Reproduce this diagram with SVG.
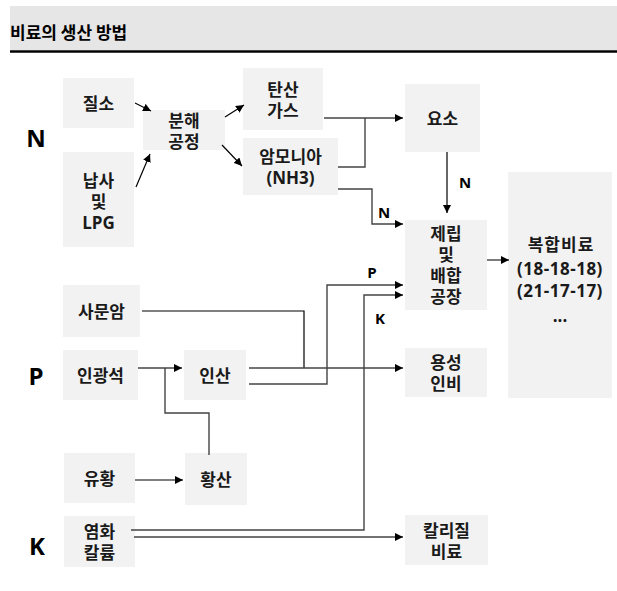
<svg xmlns="http://www.w3.org/2000/svg" width="617" height="591" viewBox="0 0 617 591">
<defs>
<marker id="ah" viewBox="0 0 10 10" refX="10" refY="5" markerWidth="8" markerHeight="8" markerUnits="userSpaceOnUse" orient="auto">
<path d="M0,0 L10,5 L0,10 Z" fill="#000"/>
</marker>
</defs>
<style>
.box{fill:#f2f2f2;}
.t{font-family:"Open Sans","Noto Sans CJK KR",sans-serif;font-weight:bold;font-size:17px;fill:#1a1a1a;text-anchor:middle;dominant-baseline:central;}
.big{font-family:"Open Sans","Noto Sans CJK KR",sans-serif;font-weight:bold;font-size:24px;fill:#000;text-anchor:middle;dominant-baseline:central;}
.lbl{font-family:"Open Sans","Noto Sans CJK KR",sans-serif;font-weight:bold;font-size:15px;fill:#000;text-anchor:middle;dominant-baseline:central;}
.c{fill:none;stroke:#444;stroke-width:1.4;}
.k{fill:none;stroke:#000;stroke-width:1.2;}
</style>
<rect x="10" y="6" width="607" height="44" fill="#e6e6e6"/>
<line x1="10" y1="51.5" x2="617" y2="51.5" stroke="#000" stroke-width="2.5"/>
<text x="10" y="31" font-family="'Noto Sans CJK KR',sans-serif" font-weight="bold" font-size="17" fill="#000" dominant-baseline="central">비료의 생산 방법</text>

<text class="big" x="36" y="137">N</text>
<text class="big" x="36" y="375">P</text>
<text class="big" x="37" y="545">K</text>

<g id="n-jilso"><rect class="box" x="63" y="78" width="71" height="50"/><text class="t" x="98.5" y="103">질소</text></g>
<g id="n-napsa"><rect class="box" x="63" y="152" width="71" height="95"/><text class="t" x="98.5" y="180">납사</text><text class="t" x="98.5" y="201">및</text><text class="t" x="98.5" y="222">LPG</text></g>
<g id="n-bunhae"><rect class="box" x="143" y="110" width="82" height="40"/><text class="t" x="184" y="120">분해</text><text class="t" x="184" y="141">공정</text></g>
<g id="n-tansan"><rect class="box" x="243" y="68" width="80" height="62"/><text class="t" x="283" y="89">탄산</text><text class="t" x="283" y="110">가스</text></g>
<g id="n-ammonia"><rect class="box" x="243" y="138" width="95" height="57"/><text class="t" x="290.5" y="156">암모니아</text><text class="t" x="290.5" y="177">(NH3)</text></g>
<g id="n-yoso"><rect class="box" x="405" y="84" width="75" height="68"/><text class="t" x="442.5" y="118">요소</text></g>
<g id="n-jerip"><rect class="box" x="405" y="220" width="82" height="90"/><text class="t" x="446" y="233.5">제립</text><text class="t" x="446" y="254.5">및</text><text class="t" x="446" y="275.5">배합</text><text class="t" x="446" y="296.5">공장</text></g>
<g id="n-bokhap"><rect class="box" x="508" y="172" width="104" height="226"/><text class="t" x="561" y="244" font-size="18" letter-spacing="1">복합비료</text><text class="t" x="560" y="268" font-size="18" letter-spacing="0.5">(18-18-18)</text><text class="t" x="560" y="290" font-size="18" letter-spacing="0.5">(21-17-17)</text><text class="t" x="560" y="315">...</text></g>
<g id="n-samunam"><rect class="box" x="63" y="285" width="77" height="52"/><text class="t" x="101.5" y="311">사문암</text></g>
<g id="n-ingwangseok"><rect class="box" x="63" y="350" width="75" height="50"/><text class="t" x="100.5" y="375">인광석</text></g>
<g id="n-insan"><rect class="box" x="184" y="350" width="62" height="50"/><text class="t" x="215" y="375">인산</text></g>
<g id="n-yongseong"><rect class="box" x="405" y="348" width="82" height="49"/><text class="t" x="446" y="362">용성</text><text class="t" x="446" y="383">인비</text></g>
<g id="n-yuhwang"><rect class="box" x="64" y="453" width="71" height="50"/><text class="t" x="99.5" y="478">유황</text></g>
<g id="n-hwangsan"><rect class="box" x="185" y="453" width="62" height="52"/><text class="t" x="216" y="479">황산</text></g>
<g id="n-yeomhwa"><rect class="box" x="64" y="516" width="71" height="51"/><text class="t" x="99.5" y="531">염화</text><text class="t" x="99.5" y="552">칼륨</text></g>
<g id="n-kalli"><rect class="box" x="405" y="515" width="83" height="50"/><text class="t" x="446.5" y="530">칼리질</text><text class="t" x="446.5" y="551">비료</text></g>

<g id="connectors">
<path class="k" d="M135,103 L151,111" marker-end="url(#ah)"/>
<path class="k" d="M136,187 L150,154" marker-end="url(#ah)"/>
<path class="k" d="M225,117 L244,105" marker-end="url(#ah)"/>
<path class="k" d="M222,145 L242,166" marker-end="url(#ah)"/>
<path class="c" d="M324,118 H403" marker-end="url(#ah)"/>
<path class="c" d="M338,167 H365 V118"/>
<path class="c" d="M338,189 H372 V224 H403" marker-end="url(#ah)"/>
<path class="k" d="M447,152 V213" marker-end="url(#ah)"/>
<path class="c" d="M487,260 H509" marker-end="url(#ah)"/>
<path class="k" d="M142,311 H304 V368"/>
<path class="c" d="M138,368 H182" marker-end="url(#ah)"/>
<path class="c" d="M209,455 V413 H165 V368"/>
<path class="k" d="M135,480 H183" marker-end="url(#ah)"/>
<path class="c" d="M249,368 H403" marker-end="url(#ah)"/>
<path class="c" d="M249,384 H327 V285 H403" marker-end="url(#ah)"/>
<path class="c" d="M131,530 H364 V295 H403" marker-end="url(#ah)"/>
<path class="c" d="M134,537 H403" marker-end="url(#ah)"/>
<text class="lbl" x="384" y="212">N</text>
<text class="lbl" x="465" y="182">N</text>
<text class="lbl" x="372" y="272">P</text>
<text class="lbl" x="380" y="318">K</text>
</g>
</svg>
